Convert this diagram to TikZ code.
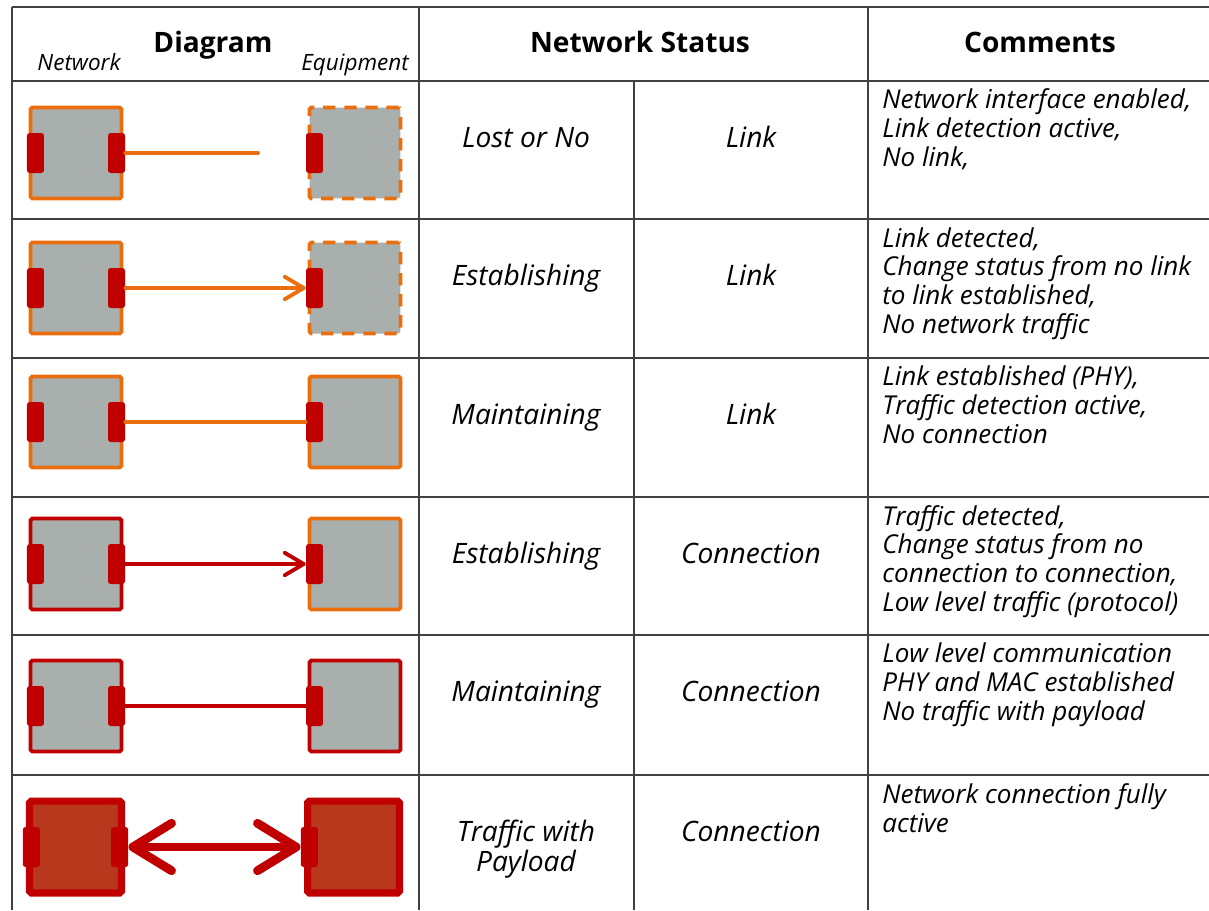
\documentclass[tikz,border=0pt]{standalone}
\usepackage{fontspec}
\setmainfont{Open Sans}
\usetikzlibrary{arrows.meta,positioning}

\definecolor{linkOrange}{HTML}{EB6E0E}
\definecolor{connRed}{HTML}{C00000}
\definecolor{boxGray}{HTML}{A8AFAD}
\definecolor{payloadRed}{HTML}{B7381C}
\definecolor{ruleGray}{HTML}{404040}

\tikzstyle{box}=[rectangle, draw, line width=2.2pt, fill=boxGray, minimum width=1.82cm, minimum height=1.82cm, inner sep=0pt, rounded corners=1pt]
\tikzstyle{fullBox}=[box, draw=connRed, fill=payloadRed, line width=4pt, minimum width=1.84cm, minimum height=1.84cm]
\tikzstyle{port}=[rectangle, fill=connRed, minimum width=0.34cm, minimum height=0.8cm, inner sep=0pt, rounded corners=1.5pt]
\tikzstyle{wire}=[line width=2.2pt, line cap=round]
\tikzstyle{tip}=[-{Straight Barb[length=11pt, width=13pt, round]}]
\tikzstyle{head}=[anchor=base, inner sep=0pt, font=\fontsize{16}{19}\selectfont\bfseries]
\tikzstyle{side}=[anchor=base, inner sep=0pt, font=\fontsize{12.8}{15}\selectfont\itshape]
\tikzstyle{status}=[anchor=base, inner sep=0pt, align=center, font=\fontsize{16}{17}\selectfont\itshape]
\tikzstyle{comment}=[anchor=base west, inner sep=0pt, align=left, font=\fontsize{14.8}{16.3}\selectfont\itshape]
\tikzstyle{rule}=[ruleGray, line width=1.1pt]

\begin{document}
\begin{tikzpicture}[x=0.02cm, y=-0.02cm]
	\useasboundingbox (0,0) rectangle (1209,910);

	% Tabelle
	\foreach \y in {7,81,219,358,497,635,775}
		\draw[rule] (12,\y) -- (1209,\y);
	\foreach \x in {12,419,868}
		\draw[rule] (\x,7) -- (\x,910);
	\draw[rule] (634,81) -- (634,910);

	% Kopfzeile
	\node[head] (hDiag) at (213,52) {Diagram};
	\node[side] (hNet) at (79,70) {Network};
	\node[side] (hEquip) at (355,70) {Equipment};
	\node[head] (hStatus) at (640,52) {Network Status};
	\node[head] (hComm) at (1040,52) {Comments};

	% Zeile 1
	\node(n1) at (76,153) [box, draw=linkOrange] {};
	\node(n1l) at ([xshift=-1.1pt]n1.west) [port, anchor=west] {};
	\node(n1r) at ([xshift=1.1pt]n1.east) [port, anchor=east] {};
	\node(e1) at (355,153) [box, draw=linkOrange, dash pattern=on 7pt off 5pt] {};
	\node(e1p) at ([xshift=-1.1pt]e1.west) [port, anchor=west] {};
	\coordinate (c1) at (258,153);
	\draw[wire, linkOrange] (n1r.east) -- (c1);

	% Zeile 2
	\node(n2) at (76,288) [box, draw=linkOrange] {};
	\node(n2l) at ([xshift=-1.1pt]n2.west) [port, anchor=west] {};
	\node(n2r) at ([xshift=1.1pt]n2.east) [port, anchor=east] {};
	\node(e2) at (355,288) [box, draw=linkOrange, dash pattern=on 7pt off 5pt] {};
	\node(e2p) at ([xshift=-1.1pt]e2.west) [port, anchor=west] {};
	\draw[wire, tip, linkOrange] (n2r.east) -- (e2p.west);

	% Zeile 3
	\node(n3) at (76,422) [box, draw=linkOrange] {};
	\node(n3l) at ([xshift=-1.1pt]n3.west) [port, anchor=west] {};
	\node(n3r) at ([xshift=1.1pt]n3.east) [port, anchor=east] {};
	\node(e3) at (355,422) [box, draw=linkOrange] {};
	\node(e3p) at ([xshift=-1.1pt]e3.west) [port, anchor=west] {};
	\draw[wire, linkOrange] (n3r.east) -- (e3p.west);

	% Zeile 4
	\node(n4) at (76,564) [box, draw=connRed] {};
	\node(n4l) at ([xshift=-1.1pt]n4.west) [port, anchor=west] {};
	\node(n4r) at ([xshift=1.1pt]n4.east) [port, anchor=east] {};
	\node(e4) at (355,564) [box, draw=linkOrange] {};
	\node(e4p) at ([xshift=-1.1pt]e4.west) [port, anchor=west] {};
	\draw[wire, tip, connRed] (n4r.east) -- (e4p.west);

	% Zeile 5
	\node(n5) at (76,706) [box, draw=connRed] {};
	\node(n5l) at ([xshift=-1.1pt]n5.west) [port, anchor=west] {};
	\node(n5r) at ([xshift=1.1pt]n5.east) [port, anchor=east] {};
	\node(e5) at (355,706) [box, draw=connRed] {};
	\node(e5p) at ([xshift=-1.1pt]e5.west) [port, anchor=west] {};
	\draw[wire, connRed] (n5r.east) -- (e5p.west);

	% Zeile 6
	\node(n6) at (75.5,847) [fullBox] {};
	\node(n6l) at ([xshift=-2pt]n6.west) [port, anchor=west] {};
	\node(n6r) at ([xshift=2pt]n6.east) [port, anchor=east] {};
	\node(e6) at (353.5,847) [fullBox] {};
	\node(e6p) at ([xshift=-2pt]e6.west) [port, anchor=west] {};
	\draw[wire, line width=5pt, connRed,
		{Straight Barb[length=22pt, width=27pt, round]}-{Straight Barb[length=22pt, width=27pt, round]}]
		(n6r.east) -- (e6p.west);

	% Status (base = letzte Zeile)
	\node[status] (s1a) at (526,147) {Lost or No};
	\node[status] (s1b) at (751,147) {Link};
	\node[status] (s2a) at (526,285) {Establishing};
	\node[status] (s2b) at (751,285) {Link};
	\node[status] (s3a) at (526,424) {Maintaining};
	\node[status] (s3b) at (751,424) {Link};
	\node[status] (s4a) at (526,563) {Establishing};
	\node[status] (s4b) at (751,563) {Connection};
	\node[status] (s5a) at (526,701) {Maintaining};
	\node[status] (s5b) at (751,701) {Connection};
	\node[status] (s6a) at (526,871) {Traffic with\\Payload};
	\node[status] (s6b) at (751,841) {Connection};

	% Kommentare (base = letzte Zeile)
	\node[comment] (k1) at (882,166) {Network interface enabled,\\Link detection active,\\No link,};
	\node[comment] (k2) at (882,333) {Link detected,\\Change status from no link\\to link established,\\No network traffic};
	\node[comment] (k3) at (882,443) {Link established (PHY),\\Traffic detection active,\\No connection};
	\node[comment] (k4) at (882,611) {Traffic detected,\\Change status from no\\connection to connection,\\Low level traffic (protocol)};
	\node[comment] (k5) at (882,720) {Low level communication\\PHY and MAC established\\No traffic with payload};
	\node[comment] (k6) at (882,832) {Network connection fully\\active};

\end{tikzpicture}
\end{document}
